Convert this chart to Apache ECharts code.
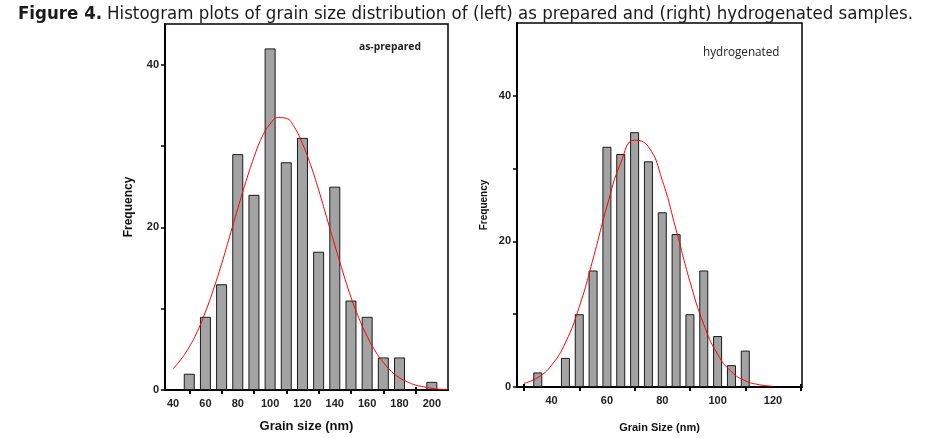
<!DOCTYPE html>
<html><head><meta charset="utf-8">
<script src="https://cdn.jsdelivr.net/npm/echarts@6/dist/echarts.min.js"></script>
<style>html,body{margin:0;padding:0;background:#fff}#c{width:926px;height:438px}</style>
</head><body><div id="c"></div>
<script>
// ---- data ----
const leftBins = [50,60,70,80,90,100,110,120,130,140,150,160,170,180,190,200];
const leftFreq = [2,9,13,29,24,42,28,31,17,25,11,9,4,4,0,1];
const leftFitX = [40,45,50,55,60,65,70,75,80,85,90,95,100,105,110,115,120,125,130,135,140,145,150,155,160,165,170,175,180,185,190,195,200,205,210];
const leftFitY = [2.6,3.8,5.3,7.2,9.6,12.4,15.5,18.9,22.3,25.6,28.6,31.1,32.7,33.5,33.4,32.3,30.3,27.7,24.6,21.2,17.8,14.5,11.4,8.8,6.6,4.8,3.4,2.3,1.5,1.0,0.6,0.4,0.2,0.1,0.05];
const leftXLabels = [40,60,80,100,120,140,160,180,200];
const leftXTicks = [50,70,90,110,130,150,170,190];
const leftYLabels = [0,20,40];
const leftYTicks = [0,10,20,30,40];

const rightBins = [35,45,50,55,60,65,70,75,80,85,90,95,100,105,110];
const rightFreq = [2,4,10,16,33,32,35,31,24,21,10,16,7,3,5];
const rightFitX = [30,35,40,45,50,55,60,65,70,75,80,85,90,95,100,105,110,115,120];
const rightFitY = [0.5,1.3,3.0,6.1,11.0,17.6,24.8,30.8,33.9,33.0,28.4,21.6,14.5,8.6,4.5,2.1,0.87,0.32,0.1];
const rightXLabels = [40,60,80,100,120];
const rightXTicks = [30,50,70,90,110,130];
const rightYLabels = [0,20,40];
const rightYTicks = [0,10,20,30,40];

const figLabel = 'Figure 4.';
const titleText = 'Histogram plots of grain size distribution of (left) as prepared and (right) hydrogenated samples.';

const zip = (a,b) => a.map((v,i)=>[v,b[i]]);
const F = 'Liberation Sans, Arial, sans-serif';
const TF = 'Liberation Sans Narrow, DejaVu Sans Condensed, sans-serif';

function xAx(gi, min, max, labels, ticks, name, nameSize, nameGap){
  return {type:'value', gridIndex:gi, min, max, position:'bottom',
    name, nameLocation:'middle', nameGap,
    nameTextStyle:{fontFamily:F, fontWeight:'bold', fontSize:nameSize, color:'#111'},
    axisLine:{show:true, onZero:false, lineStyle:{color:'#000', width:2}},
    axisTick:{show:true, inside:false, length:4, customValues:ticks, lineStyle:{color:'#000', width:2}},
    axisLabel:{customValues:labels, fontFamily:F, fontWeight:'bold', fontSize:11, color:'#222', margin:8},
    splitLine:{show:false}};
}
function xTickIn(gi, min, max, ticks){
  return {type:'value', gridIndex:gi, min, max, position:'bottom',
    axisLine:{show:false, onZero:false},
    axisTick:{show:true, inside:true, length:3, customValues:ticks, lineStyle:{color:'#000', width:2}},
    axisLabel:{show:false}, splitLine:{show:false}};
}
function yAx(gi, max, labels, ticks, name, nameSize, nameGap){
  return {type:'value', gridIndex:gi, min:0, max,
    name, nameLocation:'middle', nameGap, nameRotate:90,
    nameTextStyle:{fontFamily:F, fontWeight:'bold', fontSize:nameSize, color:'#111'},
    axisLine:{show:true, lineStyle:{color:'#000', width:2}},
    axisTick:{show:true, length:4, customValues:ticks, lineStyle:{color:'#000', width:1.5}},
    axisLabel:{customValues:labels, fontFamily:F, fontWeight:'bold', fontSize:11, color:'#222', margin:6},
    splitLine:{show:false}};
}

const chart = echarts.init(document.getElementById('c'), null, {renderer:'canvas'});
chart.setOption({
  animation:false,
  backgroundColor:'#fff',
  title:[
    {text:'{b|' + figLabel + '} {n|' + titleText + '}', left:13, top:0,
      textStyle:{rich:{
        b:{fontFamily:TF, fontWeight:'bold', fontSize:18.5, color:'#1a1a1a'},
        n:{fontFamily:TF, fontWeight:'normal', fontSize:18.5, color:'#1a1a1a'}}}},
    {text:'as-prepared', left:354, top:37, textStyle:{fontFamily:'Open Sans, sans-serif', fontWeight:'bold', fontSize:10.3, color:'#222'}},
    {text:'hydrogenated', left:698, top:42, textStyle:{fontFamily:'Open Sans, sans-serif', fontWeight:'normal', fontSize:11.7, color:'#222'}}
  ],
  grid:[
    {left:165, top:24, width:283, height:369, show:true, borderColor:'#000', borderWidth:1.5, backgroundColor:'transparent'},
    {left:517, top:23, width:285, height:371, show:true, borderColor:'#000', borderWidth:1.5, backgroundColor:'transparent'}
  ],
  xAxis:[
    xAx(0, 35, 210, leftXLabels, leftXTicks, 'Grain size (nm)', 13, 30),
    xAx(1, 27.5, 130.5, rightXLabels, rightXTicks, 'Grain Size (nm)', 11, 35),
    xTickIn(0, 35, 210, leftXTicks),
    xTickIn(1, 27.5, 130.5, rightXTicks)
  ],
  yAxis:[
    yAx(0, 45, leftYLabels, leftYTicks, 'Frequency', 12, 30),
    yAx(1, 50, rightYLabels, rightYTicks, 'Frequency', 10, 28)
  ],
  series:[
    {type:'bar', xAxisIndex:0, yAxisIndex:0, data:zip(leftBins,leftFreq), barWidth:11,
      itemStyle:{color:'#a3a3a3', borderColor:'#1a1a1a', borderWidth:1}},
    {type:'line', xAxisIndex:0, yAxisIndex:0, data:zip(leftFitX,leftFitY), smooth:true, showSymbol:false,
      lineStyle:{color:'#ff0000', width:1}, z:5},
    {type:'bar', xAxisIndex:1, yAxisIndex:1, data:zip(rightBins,rightFreq), barWidth:9,
      itemStyle:{color:'#a3a3a3', borderColor:'#1a1a1a', borderWidth:1}},
    {type:'line', xAxisIndex:1, yAxisIndex:1, data:zip(rightFitX,rightFitY), smooth:true, showSymbol:false,
      lineStyle:{color:'#ff0000', width:1}, z:5}
  ]
});
</script>
</body></html>
